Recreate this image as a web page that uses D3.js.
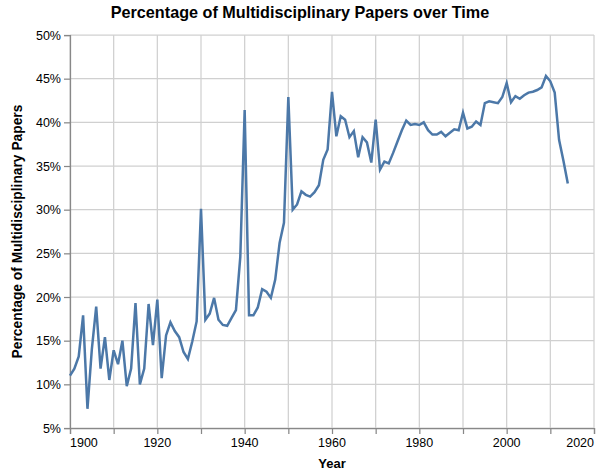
<!DOCTYPE html>
<html>
<head>
<meta charset="utf-8">
<script src="https://cdn.jsdelivr.net/npm/d3@7"></script>
<style>
  html, body { margin: 0; padding: 0; background: #fff; }
  svg { display: block; font-family: "Liberation Sans", Arial, Helvetica, sans-serif; }
</style>
</head>
<body>
<svg id="chart" width="600" height="473"></svg>
<script>
const years = d3.range(1900, 2015);
const values = [
  11.0, 11.8, 13.2, 17.9, 7.2, 14.0, 18.9, 11.8, 15.4, 10.5,
  13.9, 12.3, 15.0, 9.8, 11.8, 19.3, 10.0, 11.8, 19.2, 14.5,
  19.7, 10.7, 15.6, 17.1, 16.1, 15.4, 13.7, 12.9, 14.9, 17.2,
  30.1, 17.4, 18.1, 19.9, 17.4, 16.8, 16.7, 17.6, 18.5, 24.6,
  41.4, 17.9, 17.9, 18.8, 20.9, 20.6, 19.9, 22.0, 26.2, 28.5,
  42.9, 30.0, 30.6, 32.1, 31.7, 31.5, 32.0, 32.8, 35.7, 36.9,
  43.5, 38.4, 40.7, 40.3, 38.3, 39.0, 36.0, 38.3, 37.7, 35.4,
  40.3, 34.6, 35.5, 35.3, 36.5, 37.8, 39.1, 40.2, 39.7, 39.8,
  39.7, 40.0, 39.1, 38.6, 38.6, 38.9, 38.4, 38.8, 39.2, 39.1,
  41.1, 39.3, 39.5, 40.1, 39.7, 42.2, 42.4, 42.3, 42.2, 42.9,
  44.5, 42.3, 43.0, 42.7, 43.1, 43.4, 43.5, 43.7, 44.0, 45.3,
  44.7, 43.4, 38.0, 35.6, 33.0
];
const xTicks = d3.range(1900, 2021, 10);
const xLabels = [1900, 1920, 1940, 1960, 1980, 2000, 2020];
const yTicks = d3.range(5, 51, 5);

const data = years.map((y, i) => ({ year: y, value: values[i] }));

const svg = d3.select("#chart");
const margin = { left: 70, right: 6, top: 35, bottom: 45 };
const W = 600, H = 473;
const x = d3.scaleLinear().domain([1900, 2020]).range([margin.left, W - margin.right]);
const y = d3.scaleLinear().domain([5, 50]).range([H - margin.bottom, margin.top]);

// grid
const grid = svg.append("g");
grid.selectAll("line.vx").data(xTicks).join("line")
  .attr("x1", d => x(d)).attr("x2", d => x(d))
  .attr("y1", y(5)).attr("y2", y(50))
  .attr("stroke", "#d0d0d0").attr("stroke-width", 1.25);
grid.selectAll("line.hy").data(yTicks).join("line")
  .attr("x1", x(1900)).attr("x2", x(2020))
  .attr("y1", d => y(d)).attr("y2", d => y(d))
  .attr("stroke", "#d0d0d0").attr("stroke-width", 1.25);

// x axis
const xAxis = svg.append("g").attr("transform", `translate(0,${y(5)})`)
  .call(d3.axisBottom(x).tickValues(xTicks).tickSize(6).tickFormat(""));
xAxis.selectAll("path.domain").attr("stroke", "#888").attr("stroke-width", 1.25);
xAxis.selectAll(".tick line").attr("stroke", "#888").attr("stroke-width", 1.25);
svg.append("g").selectAll("text").data(xLabels).join("text")
  .attr("x", d => x(d)).attr("y", y(5) + 19)
  .attr("text-anchor", (d, i) => i === 0 ? "start" : (i === xLabels.length - 1 ? "end" : "middle"))
  .attr("font-size", 12.5).attr("fill", "#000")
  .text(d => d);

// y axis
const yAxis = svg.append("g").attr("transform", `translate(${x(1900)},0)`)
  .call(d3.axisLeft(y).tickValues(yTicks).tickSize(6).tickPadding(3).tickFormat(d => d + "%"));
yAxis.selectAll("path.domain").attr("stroke", "#888").attr("stroke-width", 1.25);
yAxis.selectAll(".tick line").attr("stroke", "#888").attr("stroke-width", 1.25);
yAxis.selectAll(".tick text").attr("font-size", 12.5).attr("fill", "#000")
  .attr("font-family", "Liberation Sans, Arial, sans-serif");

// line
svg.append("path").datum(data)
  .attr("fill", "none").attr("stroke", "#4c78a8").attr("stroke-width", 2.5)
  .attr("stroke-linejoin", "miter")
  .attr("d", d3.line().x(d => x(d.year)).y(d => y(d.value)));

// titles
svg.append("text").attr("x", 300).attr("y", 18).attr("text-anchor", "middle")
  .attr("font-size", 16.2).attr("font-weight", "bold")
  .text("Percentage of Multidisciplinary Papers over Time");
svg.append("text").attr("x", (x(1900) + x(2020)) / 2).attr("y", 468).attr("text-anchor", "middle")
  .attr("font-size", 13).attr("font-weight", "bold").text("Year");
svg.append("text").attr("transform", `translate(22,${(y(5) + y(50)) / 2}) rotate(-90)`)
  .attr("text-anchor", "middle").attr("font-size", 13.8).attr("font-weight", "bold")
  .text("Percentage of Multidisciplinary Papers");
</script>
</body>
</html>
